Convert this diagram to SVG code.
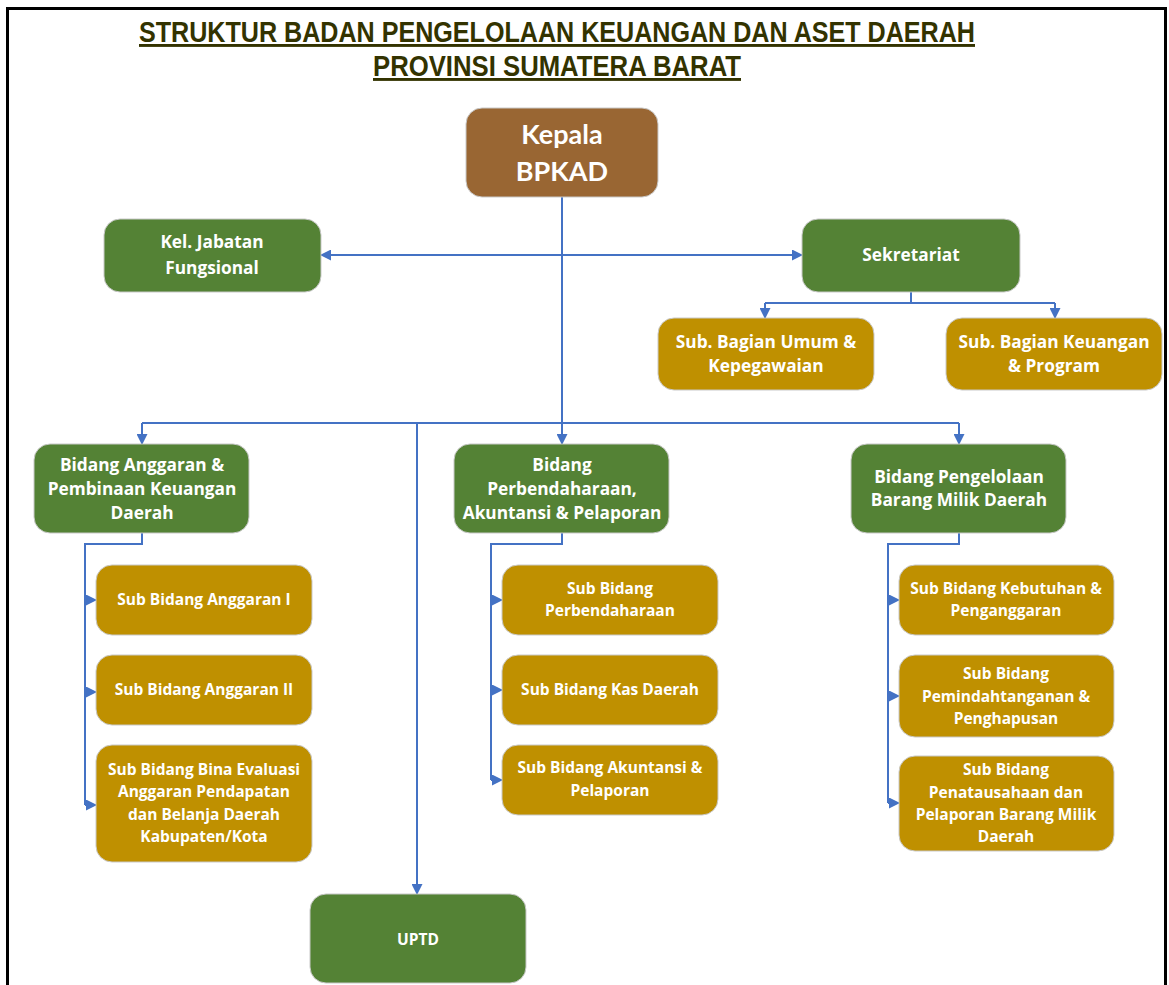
<svg xmlns="http://www.w3.org/2000/svg" width="1169" height="985" viewBox="0 0 1169 985">
<style>
.t{font-family:"Liberation Sans",Arial,sans-serif;font-weight:bold;fill:#333300;font-size:29px;text-decoration:underline}
.n{stroke:#c9c9c9;stroke-width:1}
.br{fill:#996633}.gr{fill:#548235}.go{fill:#BF9000}
.l{font-family:"Open Sans","Liberation Sans",sans-serif;font-weight:bold;fill:#ffffff;text-anchor:middle}
.big{font-family:Lato,"Open Sans",sans-serif;font-size:27px}.md{font-size:17.3px}.sm{font-size:15.5px}
.c{fill:none;stroke:#4472C4;stroke-width:2}
.a{marker-end:url(#arr)}
</style>
<defs>
<marker id="arr" markerUnits="userSpaceOnUse" markerWidth="11" markerHeight="11" refX="10" refY="5.5" orient="auto-start-reverse" viewBox="0 0 11 11">
<path d="M0,0 L11,5.5 L0,11 z" fill="#4472C4"/>
</marker>
</defs>
<rect x="7.5" y="8.5" width="1158" height="990" fill="#ffffff" stroke="#000000" stroke-width="3"/>
<g id="title">
<text class="t" x="557" y="42" text-anchor="middle" textLength="836" lengthAdjust="spacingAndGlyphs">STRUKTUR BADAN PENGELOLAAN KEUANGAN DAN ASET DAERAH</text>
<text class="t" x="557" y="76" text-anchor="middle" textLength="368" lengthAdjust="spacingAndGlyphs">PROVINSI SUMATERA BARAT</text>
</g>
<g id="connectors">
<path class="c" d="M321,255 H802" marker-start="url(#arr)" marker-end="url(#arr)"/>
<path class="c a" d="M562,197 V444"/>
<path class="c" d="M142,423 H959"/>
<path class="c a" d="M142,423 V444"/>
<path class="c a" d="M959,423 V444"/>
<path class="c a" d="M417,423 V894"/>
<path class="c" d="M911,292 V303"/>
<path class="c" d="M765,303 H1055"/>
<path class="c a" d="M765,303 V318"/>
<path class="c a" d="M1055,303 V318"/>
<path class="c" d="M142,533 V544 H85 V805"/>
<path class="c a" d="M85,600 H96"/>
<path class="c a" d="M85,692 H96"/>
<path class="c a" d="M85,805 H96"/>
<path class="c" d="M562,533 V544 H491 V780"/>
<path class="c a" d="M491,600 H502"/>
<path class="c a" d="M491,690 H502"/>
<path class="c a" d="M491,780 H502"/>
<path class="c" d="M959,533 V544 H888 V803"/>
<path class="c a" d="M888,600 H899"/>
<path class="c a" d="M888,696 H899"/>
<path class="c a" d="M888,803 H899"/>
</g>
<g id="kepala">
<rect class="n br" x="466" y="108" width="192" height="89" rx="16"/>
<text class="l big" x="562" y="144">Kepala</text>
<text class="l big" x="562" y="181">BPKAD</text>
</g>
<g id="kel-jabatan">
<rect class="n gr" x="104" y="219" width="217" height="73" rx="16"/>
<text class="l md" x="212" y="248">Kel. Jabatan</text>
<text class="l md" x="212" y="274">Fungsional</text>
</g>
<g id="sekretariat">
<rect class="n gr" x="802" y="219" width="218" height="73" rx="16"/>
<text class="l md" x="911" y="261">Sekretariat</text>
</g>
<g id="sub-umum">
<rect class="n go" x="658" y="318" width="216" height="72" rx="16"/>
<text class="l md" x="766" y="348">Sub. Bagian Umum &amp;</text>
<text class="l md" x="766" y="372">Kepegawaian</text>
</g>
<g id="sub-keuangan">
<rect class="n go" x="946" y="318" width="216" height="72" rx="16"/>
<text class="l md" x="1054" y="348">Sub. Bagian Keuangan</text>
<text class="l md" x="1054" y="372">&amp; Program</text>
</g>
<g id="bidang-anggaran">
<rect class="n gr" x="34" y="444" width="215" height="89" rx="16"/>
<text class="l md" x="142" y="471">Bidang Anggaran &amp;</text>
<text class="l md" x="142" y="495">Pembinaan Keuangan</text>
<text class="l md" x="142" y="519">Daerah</text>
</g>
<g id="bidang-perbendaharaan">
<rect class="n gr" x="454" y="444" width="215" height="89" rx="16"/>
<text class="l md" x="562" y="471">Bidang</text>
<text class="l md" x="562" y="495">Perbendaharaan,</text>
<text class="l md" x="562" y="519">Akuntansi &amp; Pelaporan</text>
</g>
<g id="bidang-bmd">
<rect class="n gr" x="851" y="444" width="215" height="89" rx="16"/>
<text class="l md" x="959" y="483">Bidang Pengelolaan</text>
<text class="l md" x="959" y="506">Barang Milik Daerah</text>
</g>
<g id="sub-anggaran-1">
<rect class="n go" x="96" y="565" width="216" height="70" rx="16"/>
<text class="l sm" x="204" y="605">Sub Bidang Anggaran I</text>
</g>
<g id="sub-anggaran-2">
<rect class="n go" x="96" y="655" width="216" height="70" rx="16"/>
<text class="l sm" x="204" y="695">Sub Bidang Anggaran II</text>
</g>
<g id="sub-bina">
<rect class="n go" x="96" y="745" width="216" height="117" rx="16"/>
<text class="l sm" x="204" y="775">Sub Bidang Bina Evaluasi</text>
<text class="l sm" x="204" y="797">Anggaran Pendapatan</text>
<text class="l sm" x="204" y="820">dan Belanja Daerah</text>
<text class="l sm" x="204" y="842">Kabupaten/Kota</text>
</g>
<g id="sub-perbendaharaan">
<rect class="n go" x="502" y="565" width="216" height="70" rx="16"/>
<text class="l sm" x="610" y="594">Sub Bidang</text>
<text class="l sm" x="610" y="616">Perbendaharaan</text>
</g>
<g id="sub-kas">
<rect class="n go" x="502" y="655" width="216" height="70" rx="16"/>
<text class="l sm" x="610" y="695">Sub Bidang Kas Daerah</text>
</g>
<g id="sub-akuntansi">
<rect class="n go" x="502" y="745" width="216" height="70" rx="16"/>
<text class="l sm" x="610" y="773">Sub Bidang Akuntansi &amp;</text>
<text class="l sm" x="610" y="796">Pelaporan</text>
</g>
<g id="sub-kebutuhan">
<rect class="n go" x="899" y="565" width="215" height="70" rx="16"/>
<text class="l sm" x="1006" y="594">Sub Bidang Kebutuhan &amp;</text>
<text class="l sm" x="1006" y="616">Penganggaran</text>
</g>
<g id="sub-pemindahtanganan">
<rect class="n go" x="899" y="655" width="215" height="82" rx="16"/>
<text class="l sm" x="1006" y="679">Sub Bidang</text>
<text class="l sm" x="1006" y="702">Pemindahtanganan &amp;</text>
<text class="l sm" x="1006" y="724">Penghapusan</text>
</g>
<g id="sub-penatausahaan">
<rect class="n go" x="899" y="756" width="215" height="95" rx="16"/>
<text class="l sm" x="1006" y="775">Sub Bidang</text>
<text class="l sm" x="1006" y="798">Penatausahaan dan</text>
<text class="l sm" x="1006" y="820">Pelaporan Barang Milik</text>
<text class="l sm" x="1006" y="842">Daerah</text>
</g>
<g id="uptd">
<rect class="n gr" x="310" y="894" width="216" height="89" rx="16"/>
<text class="l sm" x="418" y="945">UPTD</text>
</g>
</svg>
